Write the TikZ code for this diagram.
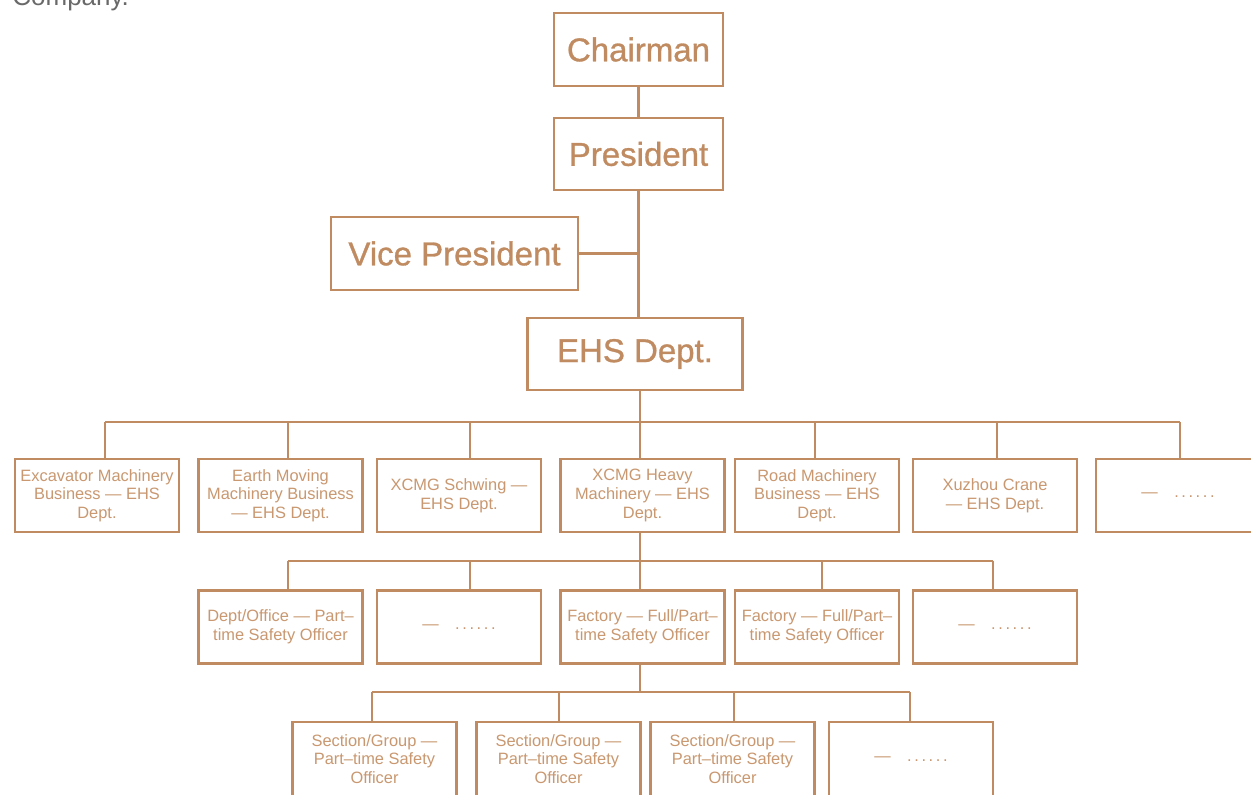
\documentclass[tikz,border=0pt]{standalone}
\usepackage{fontspec}
\setmainfont{Liberation Sans}
\newfontfamily\headfont{Liberation Sans}[BoldFont={Liberation Sans}, BoldFeatures={FakeBold=0.9}]
\usetikzlibrary{positioning}
\definecolor{ehsline}{RGB}{192,139,96}
\definecolor{ehstext}{RGB}{201,152,112}
\definecolor{capgray}{RGB}{105,105,105}
\newcommand{\moredots}{—\hspace{1em}.\kern1.3pt.\kern1.3pt.\kern1.3pt.\kern1.3pt.\kern1.3pt.}

\tikzset{
	box/.style={draw=ehsline, line width=1.4pt, fill=white, align=center, inner sep=1pt},
	bigbox/.style={box, text=ehsline, font=\headfont\bfseries\fontsize{16.5}{19}\selectfont},
	smallbox/.style={box, text=ehstext, font=\fontsize{8.2}{9.3}\selectfont, minimum width=82pt, minimum height=36.5pt},
	link/.style={draw=ehsline, line width=1.4pt}
}

\begin{document}
\begin{tikzpicture}[x=0.5pt, y=-0.5pt]
			\useasboundingbox (0,0) rectangle (1251,795);
			\def\rowb{495.5}
			\def\rowc{627}
			\def\rowd{759}
			\def\busb{422}
			\def\busc{561}
			\def\busd{692}
			% caption left over from the page
			\node[anchor=base west, inner sep=0pt, text=capgray, font=\fontsize{13}{15}\selectfont] (cap) at (12,6) {Company.};
			% top of the chart
			\node[bigbox, minimum width=84.5pt, minimum height=36.5pt] (chair) at (638.5,49.5) {Chairman};
			\node[bigbox, minimum width=84.5pt, minimum height=36pt] (pres) at (638.5,154) {President};
			\node[bigbox, minimum width=123.5pt, minimum height=36.5pt] (vice) at (454.5,253.5) {Vice President};
			\node[bigbox, minimum width=107.5pt, minimum height=36pt] (ehs) at (635,354) {EHS Dept.};
			\draw[link] (chair) -- (pres);
			\draw[link] (pres.south) -- (pres.south |- ehs.north);
			\draw[link] (vice.east) -- (vice.east -| pres.south);
			% business EHS depts
			\node[smallbox] (b1) at (97,\rowb) {Excavator Machinery\\Business — EHS\\Dept.};
			\node[smallbox] (b2) at (280.5,\rowb) {Earth Moving\\Machinery Business\\— EHS Dept.};
			\node[smallbox] (b3) at (459,\rowb) {XCMG Schwing —\\EHS Dept.};
			\node[smallbox] (b4) at (642.5,\rowb) {XCMG Heavy\\Machinery — EHS\\Dept.};
			\node[smallbox] (b5) at (817,\rowb) {Road Machinery\\Business — EHS\\Dept.};
			\node[smallbox] (b6) at (995,\rowb) {Xuzhou Crane\\— EHS Dept.};
			\node[smallbox] (b7) at (1178,\rowb) {\moredots};
			% safety officers
			\node[smallbox] (c1) at (280.5,\rowc) {Dept/Office — Part–\\time Safety Officer};
			\node[smallbox] (c2) at (459,\rowc) {\moredots};
			\node[smallbox] (c3) at (642.5,\rowc) {Factory — Full/Part–\\time Safety Officer};
			\node[smallbox] (c4) at (817,\rowc) {Factory — Full/Part–\\time Safety Officer};
			\node[smallbox] (c5) at (995,\rowc) {\moredots};
			% section officers
			\node[smallbox, minimum height=37pt] (d1) at (374.5,\rowd) {Section/Group —\\Part–time Safety\\Officer};
			\node[smallbox, minimum height=37pt] (d2) at (558.5,\rowd) {Section/Group —\\Part–time Safety\\Officer};
			\node[smallbox, minimum height=37pt] (d3) at (732.5,\rowd) {Section/Group —\\Part–time Safety\\Officer};
			\node[smallbox, minimum height=37pt] (d4) at (911,\rowd) {\moredots};
			% drop points on the buses
			\coordinate (hb) at (640,\busb);
			\coordinate (hc) at (640,\busc);
			\coordinate (hd) at (640,\busd);
			\foreach \n/\x in {1/105,2/288,3/470,4/640,5/815,6/997,7/1180}
				\coordinate (pb\n) at (\x,\busb);
			\foreach \n/\x in {1/288,2/470,3/640,4/822,5/993}
				\coordinate (pc\n) at (\x,\busc);
			\foreach \n/\x in {1/372,2/559,3/734,4/910}
				\coordinate (pd\n) at (\x,\busd);
			% connectors
			\draw[link] (ehs.south -| hb) -- (hb);
			\draw[link] (pb1) -- (pb7);
			\foreach \n in {1,...,7}
				\draw[link] (pb\n) -- (pb\n |- b\n.north);
			\draw[link] (b4.south -| hc) -- (hc);
			\draw[link] (pc1) -- (pc5);
			\foreach \n in {1,...,5}
				\draw[link] (pc\n) -- (pc\n |- c\n.north);
			\draw[link] (c3.south -| hd) -- (hd);
			\draw[link] (pd1) -- (pd4);
			\foreach \n in {1,...,4}
				\draw[link] (pd\n) -- (pd\n |- d\n.north);
		\end{tikzpicture}
\end{document}
